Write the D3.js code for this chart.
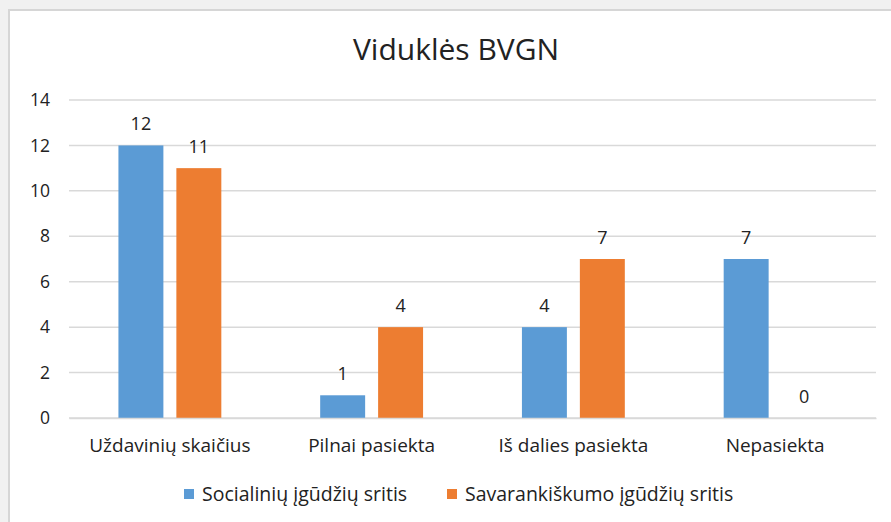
<!DOCTYPE html>
<html><head><meta charset="utf-8">
<script src="https://cdn.jsdelivr.net/npm/d3@7"></script>
<style>
html,body{margin:0;padding:0;background:#f1f1f1;}
svg{display:block;}
text{font-family:"Open Sans",Lato,sans-serif;fill:#222;}
</style></head>
<body>
<svg id="c" width="891" height="522"></svg>
<script>
const categories = ["Uždavinių skaičius","Pilnai pasiekta","Iš dalies pasiekta","Nepasiekta"];
const seriesNames = ["Socialinių įgūdžių sritis","Savarankiškumo įgūdžių sritis"];
const social = [12,1,4,7];
const selfcare = [11,4,7,0];
const yTicks = [0,2,4,6,8,10,12,14];
const colors = ["#5b9bd5","#ed7d31"];
const title = "Viduklės BVGN";

const values = [social, selfcare];
const svg = d3.select("#c");
svg.append("rect").attr("x",0).attr("y",0).attr("width",891).attr("height",522).attr("fill","#f1f1f1");
svg.append("rect").attr("x",9).attr("y",10).attr("width",884).attr("height",514).attr("fill","#fff")
  .attr("stroke","#d6d6d6").attr("stroke-width",2);

const L=69, R=876, T=100, B=418;
const y = d3.scaleLinear().domain([0,14]).range([B,T]);
const x0 = d3.scaleBand().domain(categories).range([L,R]).paddingInner(0.49).paddingOuter(0.245);
const x1 = d3.scaleBand().domain([0,1]).range([0,x0.bandwidth()]).paddingInner(0.224);

svg.append("g").selectAll("line").data(yTicks).join("line")
  .attr("x1",L).attr("x2",R).attr("y1",d=>y(d)).attr("y2",d=>y(d))
  .attr("stroke","#d9d9d9").attr("stroke-width",1.5);

const ya = svg.append("g").attr("transform",`translate(${L},0)`)
  .call(d3.axisLeft(y).tickValues(yTicks).tickSize(0).tickPadding(19));
ya.select(".domain").remove();
ya.selectAll("text").style("font-family","'Open Sans',Lato,sans-serif").style("font-size","17.5px").attr("fill","#222");

const g = svg.append("g");
categories.forEach((c,i)=>{
  values.forEach((vals,s)=>{
    const v = vals[i];
    const xx = x0(c)+x1(s);
    g.append("rect").attr("x",xx).attr("y",y(v)).attr("width",x1.bandwidth()).attr("height",B-y(v))
      .attr("fill",colors[s]);
    g.append("text").attr("x",xx+x1.bandwidth()/2).attr("y",y(v)-15)
      .attr("text-anchor","middle").style("font-size","18px").text(v);
  });
});

const xa = svg.append("g").attr("transform",`translate(0,${B})`)
  .call(d3.axisBottom(x0).tickSize(0).tickPadding(21));
xa.select(".domain").attr("stroke","#d9d9d9").attr("stroke-width",1.5);
xa.selectAll("text").style("font-family","'Open Sans',Lato,sans-serif").style("font-size","19px").attr("fill","#222");

svg.append("text").attr("x",456).attr("y",60).attr("text-anchor","middle")
  .style("font-size","30px").text(title);

const legX = [184,447];
seriesNames.forEach((n,s)=>{
  svg.append("rect").attr("x",legX[s]).attr("y",489).attr("width",10).attr("height",10).attr("fill",colors[s]);
  svg.append("text").attr("x",legX[s]+18).attr("y",501).style("font-size","19.5px").text(n);
});
</script>
</body></html>
